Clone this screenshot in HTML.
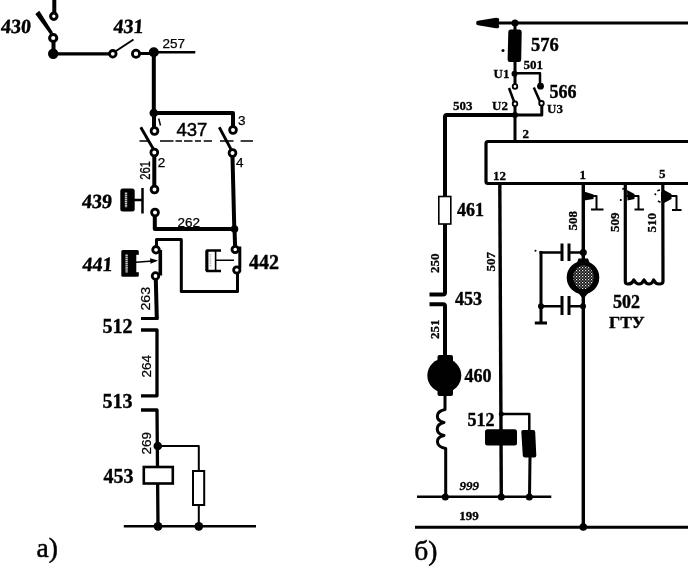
<!DOCTYPE html>
<html lang="ru">
<head>
<meta charset="utf-8">
<title>Схема</title>
<style>
html,body{margin:0;padding:0;background:#fff;}
body{width:688px;height:573px;overflow:hidden;}
svg{display:block;opacity:.999;will-change:transform;}
text{font-family:"Liberation Serif",serif;fill:#000;}
.b{font-weight:bold;font-size:20px;stroke:#000;stroke-width:.4;}
.bi{font-weight:bold;font-size:20px;stroke:#000;stroke-width:.4;}
.r{font-weight:bold;font-size:18px;stroke:#000;stroke-width:.4;}
.s{font-family:"Liberation Sans",sans-serif;font-size:13.5px;stroke:#000;stroke-width:.25;}
.sb{font-weight:bold;font-size:13px;stroke:#000;stroke-width:.3;}
.cap{font-size:27.5px;stroke:#000;stroke-width:.5;}
.k{stroke:#000;fill:none;stroke-width:4;stroke-linejoin:round;stroke-linecap:butt;}
.m{stroke:#000;fill:none;stroke-width:3;stroke-linejoin:round;stroke-linecap:butt;}
.n{stroke:#000;fill:none;stroke-width:2.5;stroke-linejoin:round;stroke-linecap:butt;}
.t{stroke:#000;fill:none;stroke-width:2;stroke-linejoin:round;stroke-linecap:butt;}
.c{stroke:#000;fill:#fff;stroke-width:2.8;}
.c2{stroke:#000;fill:#fff;stroke-width:1.8;}
.d{fill:#000;stroke:none;}
</style>
</head>
<body>
<svg width="688" height="573" viewBox="0 0 688 573">
<defs>
  <pattern id="stip" width="3" height="3" patternUnits="userSpaceOnUse">
    <rect width="3" height="3" fill="#111"/>
    <rect x="0" y="0" width="1.2" height="1.2" fill="#f0f0f0"/>
    <rect x="1.5" y="1.5" width="1.1" height="1.1" fill="#c8c8c8"/>
  </pattern>
</defs>
<rect x="0" y="0" width="688" height="573" fill="#fff"/>

<!-- ================= a) ================= -->
<g id="left">
  <!-- switch 430 -->
  <path class="k" d="M54.3 0V13"/>
  <circle class="c" cx="53.8" cy="16.3" r="3.2" style="stroke-width:3"/>
  <path class="d" d="M35.3 14L39.3 10.8L53 32.5L50.3 34.5Z"/>
  <circle class="c" cx="53.2" cy="38" r="3.6" style="stroke-width:3"/>
  <path class="k" d="M53.5 42V54"/><path class="m" d="M53.5 53.8H110" style="stroke-width:3.3"/>
  <circle class="d" cx="53.2" cy="53.8" r="5.2"/>
  <text class="bi" transform="translate(0.5 32.5) skewX(-5)">430</text>
  <!-- switch 431 -->
  <circle class="c" cx="112.8" cy="53.8" r="3.3"/>
  <path class="t" d="M116 51L133.5 39.5"/>
  <circle class="c" cx="136" cy="53.8" r="3.6"/>
  <path class="m" d="M139 53.5H153"/>
  <path class="k" d="M153.8 52V113"/>
  <circle class="d" cx="153.8" cy="52.2" r="5"/>
  <path class="n" d="M153 52.3H195.3"/>
  <text class="bi" transform="translate(113 32.5) skewX(-5)">431</text>
  <text class="s" x="162.5" y="48.2">257</text>
  <!-- 437 -->
  <circle class="d" cx="153.8" cy="113" r="4.3"/>
  <path class="k" d="M153 113H233V126"/>
  <path class="k" d="M154 113V127"/>
  <circle class="c" cx="154.5" cy="131" r="3.4"/>
  <circle class="c" cx="233" cy="130" r="3.4"/>
  <path class="d" d="M139.5 128L142 126.5L155 149L152.5 150.5Z"/>
  <path class="d" d="M218 128L220.5 126.5L232.5 149L230 150.5Z"/>
  <circle class="c" cx="154.3" cy="152.5" r="3.4"/>
  <circle class="c" cx="232.5" cy="153" r="3.4"/>
  <path class="t" d="M139.5 141H149.5M160 141H173.5M175.5 141H182M184 141H192.5M195 141H201M203.7 141H212M220 141H233.5M240.6 141H253" style="stroke-width:1.6"/>
  <text x="176.5" y="136.3" style="font-family:'Liberation Sans',sans-serif;font-size:18.5px;stroke:#000;stroke-width:.5">437</text>
  <path class="t" d="M158.7 118.5L160.5 125.5" style="stroke-width:1.5"/>
  <text class="s" x="238" y="125">3</text>
  <text class="s" x="157.8" y="167.3">2</text>
  <text class="s" x="236" y="167.3">4</text>
  <path class="k" d="M154.3 156V186"/>
  <path class="k" d="M232.5 157L234.3 229"/>
  <text class="s" transform="translate(149.5 179.8) rotate(-90) scale(.84 1.1)">261</text>
  <circle class="c" cx="154.5" cy="189.5" r="3.4"/>
  <!-- 439 -->
  <text class="bi" transform="translate(81.5 208) skewX(-5)">439</text>
  <rect x="120.3" y="188.5" width="14.4" height="23" rx="2.5" fill="#000"/>
  <path d="M126 192.5V207.5" stroke="#c4c4c4" stroke-width="2.4" stroke-dasharray="1.6 .5"/>
  <path class="n" d="M142.5 188V213.5M134 200H142.5"/>
  <circle class="c" cx="155" cy="212.5" r="3.4"/>
  <path class="k" d="M154.8 216V229H234.5"/>
  <circle class="d" cx="234.5" cy="229" r="3.8"/>
  <text class="s" x="177.5" y="226.8">262</text>
  <!-- 441 / 442 -->
  <path class="k" d="M234.5 229L235.1 246"/>
  <path class="m" d="M156.5 246V239.5H181.3V291.5H237.5V273"/>
  <circle class="c" cx="156" cy="249.8" r="3.3"/>
  <circle class="c" cx="155.5" cy="276" r="3.3"/>
  <path class="k" d="M160.3 250V275.5" style="stroke-width:3.6"/>
  <text class="bi" transform="translate(82 271) skewX(-5)">441</text>
  <rect x="121.3" y="250" width="17.5" height="26.8" rx="1.5" fill="#000"/>
  <path d="M126.6 254.5V272.5" stroke="#c4c4c4" stroke-width="2.4" stroke-dasharray="1.6 .5"/>
  <path d="M136.3 254.8H140V272.2H136.3Z" fill="#fff"/>
  <path class="t" d="M136 262.3L156 260.8" style="stroke-width:1.5"/>
  <path class="d" d="M150 258.3L158 260.6L150.5 263.8Z"/>
  <circle class="c" cx="235.2" cy="249.5" r="3.2"/>
  <circle class="c" cx="236.8" cy="270" r="3.2"/>
  <path class="m" d="M239.8 246.5V268"/>
  <path class="n" d="M221 250.5H207V271H221" style="stroke-width:2.4"/>
  <path class="t" d="M206.8 250.5V271" style="stroke-width:3"/>
  <path class="t" d="M215.6 250.5V271M215.6 260.2H234" style="stroke-width:1.6"/><path d="M210.5 254V267" stroke="#bbb" stroke-width="1.6" stroke-dasharray="1.4 .8"/>
  <text class="b" x="249" y="269">442</text>
  <!-- chain -->
  <path class="k" d="M155.8 279.5L156.8 318.5"/>
  <path class="m" d="M141 318.5H158.5"/>
  <text class="s" transform="translate(150.3 310.6) rotate(-90) scale(1.06 1)">263</text>
  <text class="b" x="102.5" y="333.3">512</text>
  <path class="m" d="M141 330H157V395.8H141" style="stroke-width:3.3"/>
  <text class="s" transform="translate(151.3 377.5) rotate(-90)">264</text>
  <text class="b" x="102.5" y="407.8">513</text>
  <path class="m" d="M141 410H157L158 526" style="stroke-width:3.3"/>
  <circle class="d" cx="157.8" cy="446" r="4.3"/>
  <text class="s" transform="translate(151 454.5) rotate(-90)">269</text>
  <path class="t" d="M158 446H198.8V470M198.8 505V526"/>
  <rect x="193" y="471" width="11.2" height="34" fill="#fff" stroke="#000" stroke-width="2"/>
  <rect x="143.8" y="467" width="29" height="16.5" fill="#fff" stroke="#000" stroke-width="2.6"/>
  <text class="b" x="103.5" y="482.8">453</text>
  <path class="n" d="M123.8 526.3H256"/>
  <circle class="d" cx="158" cy="526.3" r="4.4"/>
  <circle class="d" cx="198.8" cy="526.3" r="4.4"/>
  <text class="cap" x="36.5" y="557">а)</text>
</g>

<!-- ================= б) ================= -->
<g id="right">
  <path class="m" d="M490 23H688" style="stroke-width:3.2"/>
  <path class="d" d="M476.3 22Q476.3 21 478 20.7L496 17.8Q499.5 17.8 499.2 20L498.5 23L499.2 26.5Q499.5 28.5 496 28.3L478 25.3Q476.3 25 476.3 24Z"/>
  <circle class="d" cx="515" cy="23" r="3.5"/>
  <path class="m" d="M515 23V84.5M515 105.5V142"/>
  <path class="d" d="M510.5 29.5H519.5Q521.7 29.5 521.7 32L521.2 59.5Q521.2 62 519 62H510Q507.6 62 507.6 59.5L508.3 32Q508.3 29.5 510.5 29.5Z"/>
  <circle class="d" cx="503" cy="50.5" r="1.5"/>
  <text class="r" x="531" y="51.4" style="font-size:18.5px">576</text>
  <text class="sb" x="493.5" y="77.5">U1</text>
  <text class="sb" x="523.5" y="68.6">501</text>
  <circle class="d" cx="514.5" cy="73.8" r="3"/>
  <path class="n" d="M515 73.3H540V85"/>
  <circle class="d" cx="540.5" cy="86.2" r="3.4"/>
  <circle class="c2" cx="515" cy="86.5" r="2.3"/>
  <circle class="c2" cx="515" cy="103.8" r="2.3"/>
  <circle class="c2" cx="541.5" cy="103.3" r="2.3"/>
  <path class="n" d="M509 88L514 101.5"/>
  <path class="n" d="M533.8 87.5L540 101.5"/>
  <text class="r" x="549.5" y="98.3">566</text>
  <text class="sb" x="492" y="109.7">U2</text>
  <text class="sb" x="547" y="112.5">U3</text>
  <text class="sb" x="453" y="110">503</text>
  <path class="m" d="M515 115H541.8V106"/>
  <path class="k" d="M445 196V117Q445 115 447 115H515"/>
  <circle class="d" cx="515" cy="115" r="3"/>
  <text class="sb" x="522.5" y="137.5">2</text>
  <!-- box -->
  <path class="m" d="M688 141.5H488Q486 141.5 486 143.5V181.5Q486 183.5 488 183.5H688" style="stroke-width:3.2"/>
  <text class="sb" x="493" y="179.5">12</text>
  <text class="sb" x="579.5" y="178.5">1</text>
  <text class="sb" x="659" y="178.3">5</text>
  <!-- 461 branch -->
  <rect x="438.8" y="196.5" width="12" height="27.5" fill="#fff" stroke="#000" stroke-width="1.6"/>
  <text class="r" x="457" y="216">461</text>
  <path class="k" d="M445 224V292.5Q445 294.5 443 294.5H429.5"/>
  <text class="sb" transform="translate(439.3 273) rotate(-90)">250</text>
  <text class="r" x="455" y="304.5">453</text>
  <path class="k" d="M429.5 304.3H443Q445 304.3 445 306.3V358"/>
  <text class="sb" transform="translate(439.3 339) rotate(-90)">251</text>
  <circle cx="444.3" cy="375.5" r="17" fill="#000"/>
  <rect x="437.5" y="355" width="15.5" height="41" rx="2" fill="#000"/>
  <text class="r" x="464.5" y="382.3">460</text>
  <path class="m" d="M445 396V409.5C435 411.5 435 420.5 444 422.5C435 424.5 435 433.5 444 435.5C435 437.5 435 446.5 445.7 448.5V497"/>
  <path class="n" d="M417 496.8H551.3"/>
  <circle class="d" cx="445.3" cy="497" r="3.5"/>
  <circle class="d" cx="501.3" cy="497" r="3.5"/>
  <circle class="d" cx="529.3" cy="497" r="3.5"/>
  <text class="sb" x="459.5" y="489.5" style="font-style:italic">999</text>
  <text class="sb" x="459.3" y="519.5">199</text>
  <path class="n" d="M415 527.2H688" style="stroke-width:3"/>
  <circle class="d" cx="583.3" cy="527" r="3.8"/>
  <!-- 507 -->
  <path class="m" d="M499.8 183L501.3 497" style="stroke-width:3.4"/>
  <text class="sb" transform="translate(494.8 271.5) rotate(-90)">507</text>
  <text class="r" x="467.5" y="425.5">512</text>
  <circle class="d" cx="501.3" cy="414" r="2.5"/>
  <path class="n" d="M501 414H529.3V430"/><path class="m" d="M530 457L529.5 497"/>
  <rect x="485" y="429.3" width="32" height="16.2" rx="2.5" fill="#000"/>
  <path class="d" d="M523 430H533.5Q535 430 535.2 432L536.3 455.5Q536.3 457.5 534.5 457.5H525Q523 457.5 522.8 455.5L521.3 432Q521.3 430 523 430Z"/>
  <!-- 508 -->
  <path class="m" d="M583.3 183V527" style="stroke-width:3.4"/>
  <text class="sb" transform="translate(577 230.5) rotate(-90)">508</text>
  <path class="d" d="M584 191.5L593.5 194.5V199L584 200.5Z"/>
  <path class="t" d="M584 196H596.5V209.5M591 209.5H603.5"/>
  <path class="m" d="M562 243.5V261M569 243.5V261M562 296V315M569 296V315M541 251V323"/><path class="n" d="M569 252.5H583M562 252.5H539.5M569 306.3H583M541 306.3H562"/>
  <path class="m" d="M534.8 323H547"/>
  <circle class="d" cx="583.3" cy="252.5" r="3.5"/>
  <circle class="d" cx="583" cy="306.3" r="3"/>
  <circle class="d" cx="541" cy="306.3" r="3"/>
  <circle class="d" cx="535.5" cy="250.8" r="1"/>
  <path class="d" d="M578.5 258.5H588L590 264H576.5ZM576.5 291H590L584.5 297.5H582Z"/>
  <ellipse cx="583" cy="277.5" rx="16.3" ry="16.5" fill="#000"/>
  <ellipse cx="583.5" cy="277.3" rx="10.3" ry="12" fill="url(#stip)"/>
  <text class="r" x="613" y="307.5">502</text>
  <text class="r" x="609" y="327.8" style="font-size:17.5px">ГТУ</text>
  <!-- 509/510 -->
  <path class="m" d="M625.3 183V281.5Q625.3 284 628 284Q632 284 633.8 280Q636 284 639 284Q642 284 644 280Q646 284 649 284Q652 284 653.6 280Q655.5 284 659 284Q663 284 663 281.5L662.8 183" style="stroke-width:3.2"/>
  <text class="sb" transform="translate(619.3 232) rotate(-90)">509</text>
  <text class="sb" transform="translate(656.3 232.5) rotate(-90)">510</text>
  <circle class="d" cx="620.8" cy="200" r="1.1"/><path class="t" d="M657.3 190.8L660 190M658 201L660.5 202.3M654.6 193.5L656 195" style="stroke-width:1.5"/><path class="t" d="M622.3 189.3L624 188.5" style="stroke-width:1.5"/>
  <path class="d" d="M627 190L634.5 194V199L627.5 200.5Z"/>
  <path class="t" d="M627 196H638.5V209.5M634.5 209.5H644"/>
  <path class="d" d="M661 192.5L664 190L671.5 194V199L664 203L661 200.5Z"/>
  <path class="t" d="M665 196H676.5V210M672 210H681.5"/>
  <text class="cap" x="414.3" y="560">б)</text>
</g>
</svg>
</body>
</html>
